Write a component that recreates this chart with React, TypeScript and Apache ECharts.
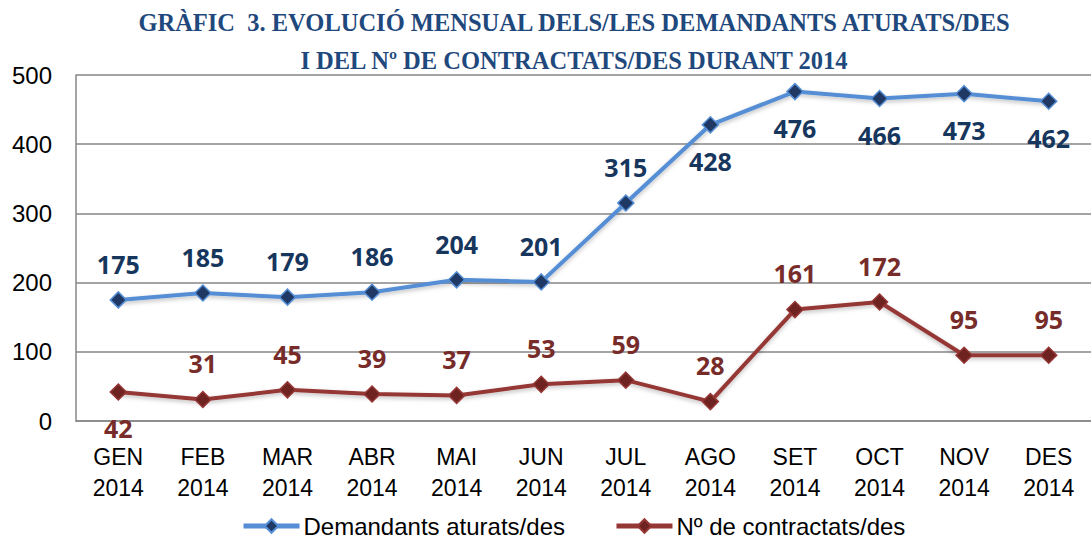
import React, { useEffect, useRef } from "react";
import * as echarts from "echarts";

const categories = ["GEN\n2014", "FEB\n2014", "MAR\n2014", "ABR\n2014", "MAI\n2014", "JUN\n2014", "JUL\n2014", "AGO\n2014", "SET\n2014", "OCT\n2014", "NOV\n2014", "DES\n2014"];
const demandants = [175, 185, 179, 186, 204, 201, 315, 428, 476, 466, 473, 462];
const contractats = [42, 31, 45, 39, 37, 53, 59, 28, 161, 172, 95, 95];
const demandantsBelow = [7, 8, 9, 10, 11];
const contractatsBelow = [0];
const yTicks = [0, 100, 200, 300, 400, 500];
const seriesNames = ["Demandants aturats/des", "Nº de contractats/des"];
const titleText = "GRÀFIC  3. EVOLUCIÓ MENSUAL DELS/LES DEMANDANTS ATURATS/DES\nI DEL Nº DE CONTRACTATS/DES DURANT 2014";

export default function App() {
  const ref = useRef<HTMLDivElement>(null);
  useEffect(() => {
    if (!ref.current) return;
    const chart = echarts.init(ref.current, null, { renderer: "svg" });
    const mk = (vals: number[], below: number[]) =>
      vals.map((v, i) => ({
        value: v,
        label: { position: below.includes(i) ? "bottom" : "top" },
      }));
    chart.setOption({
      animation: false,
      backgroundColor: "#ffffff",
      title: {
        text: titleText,
        left: 569,
        textAlign: "center",
        top: -2,
        textStyle: {
          fontFamily: "Liberation Serif",
          fontWeight: "bold",
          fontSize: 24.5,
          color: "#1F497D",
          lineHeight: 38,
        },
      },
      legend: {
        bottom: -3,
        left: 236,
        itemWidth: 56,
        itemHeight: 17,
        itemGap: 49,
        lineStyle: { width: 5 },
        textStyle: { fontFamily: "Liberation Sans", fontSize: 24, color: "#000", padding: [0, 0, 0, -1] },
        data: seriesNames,
      },
      grid: { left: 76, right: -11, top: 75, bottom: 119, containLabel: false },
      xAxis: {
        type: "category",
        data: categories,
        boundaryGap: true,
        axisLine: { lineStyle: { color: "#868686", width: 1.5 } },
        axisTick: { show: false },
        axisLabel: {
          fontFamily: "Liberation Sans",
          fontSize: 23,
          color: "#000",
          lineHeight: 31,
          margin: 20,
        },
      },
      yAxis: {
        type: "value",
        min: yTicks[0],
        max: yTicks[yTicks.length - 1],
        interval: 100,
        axisLine: { show: true, lineStyle: { color: "#868686", width: 1.5 } },
        axisTick: { show: false },
        splitLine: { lineStyle: { color: "#868686", width: 1.5 } },
        axisLabel: {
          fontFamily: "Liberation Sans",
          fontSize: 24,
          color: "#000",
          margin: 24,
        },
      },
      series: [
        {
          name: seriesNames[0],
          type: "line",
          data: mk(demandants, demandantsBelow),
          symbol: "diamond",
          symbolSize: 16,
          lineStyle: { color: "#558ED5", width: 4, shadowColor: "rgba(0,0,0,0.25)", shadowBlur: 4, shadowOffsetY: 2 },
          itemStyle: { color: "#1F3864", borderColor: "#558ED5", borderWidth: 1.5 },
          label: {
            show: true,
            distance: 15,
            fontFamily: "Open Sans",
            fontWeight: "bold",
            fontSize: 25,
            color: "#17365D",
          },
        },
        {
          name: seriesNames[1],
          type: "line",
          data: mk(contractats, contractatsBelow),
          symbol: "diamond",
          symbolSize: 16,
          lineStyle: { color: "#953735", width: 4, shadowColor: "rgba(0,0,0,0.25)", shadowBlur: 4, shadowOffsetY: 2 },
          itemStyle: { color: "#6E2321", borderColor: "#953735", borderWidth: 1.5 },
          label: {
            show: true,
            distance: 15,
            fontFamily: "Open Sans",
            fontWeight: "bold",
            fontSize: 25,
            color: "#772C2A",
          },
        },
      ],
    });
    return () => chart.dispose();
  }, []);
  return (
    <div
      ref={ref}
      style={{ position: "fixed", left: 0, top: 0, width: 1091, height: 540, background: "#fff" }}
    />
  );
}
